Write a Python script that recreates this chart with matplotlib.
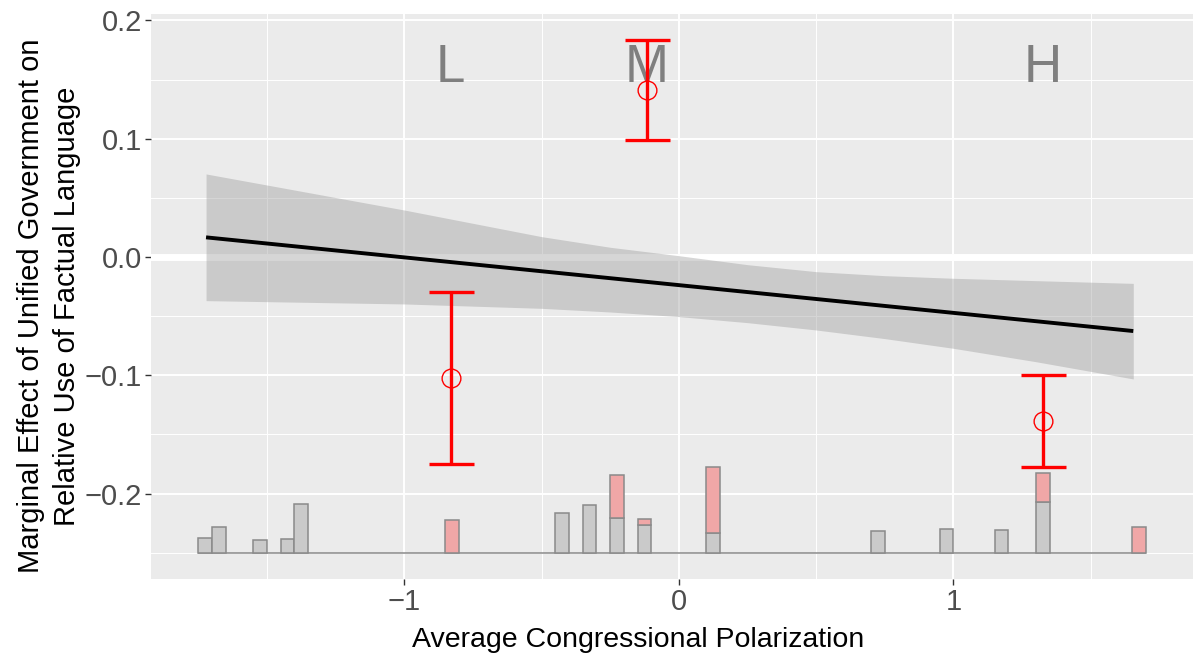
import numpy as np
import matplotlib
matplotlib.use("Agg")
import matplotlib.pyplot as plt
from matplotlib.ticker import MultipleLocator, FixedLocator

plt.rcParams['font.family'] = ['Liberation Sans', 'DejaVu Sans']

# ---- data ----
# fitted marginal-effect line (endpoints)
line_x = [-1.722, 1.655]
line_y = [0.0166, -0.0626]
# confidence band
band_x = [-1.722, -1.0, -0.5, -0.25, 0.0, 0.25, 0.5, 0.75, 1.0, 1.3, 1.655]
band_hi = [0.0702, 0.0397, 0.0172, 0.0082, 0.0011, -0.0065, -0.0124,
           -0.0158, -0.0180, -0.0200, -0.0223]
band_lo = [-0.0369, -0.0397, -0.0434, -0.0465, -0.0504, -0.0555, -0.0617,
           -0.0690, -0.0772, -0.0885, -0.1031]

# binned estimates L / M / H
grp_labels = ["L", "M", "H"]
grp_x = [-0.831, -0.117, 1.326]
grp_est = [-0.1023, 0.1412, -0.1386]
grp_lo = [-0.1750, 0.0989, -0.1775]
grp_hi = [-0.0296, 0.1834, -0.0997]
label_y = 0.1595

# histogram of the moderator (bin centres, heights in y-units above base)
hist_base = -0.25
hist_width = 0.05
hist_x = [-1.725, -1.675, -1.525, -1.425, -1.375, -0.825, -0.425, -0.325,
          -0.225, -0.125, 0.125, 0.725, 0.975, 1.175, 1.325, 1.675]
hist_gray = [0.0127, 0.0216, 0.0107, 0.0112, 0.0408, 0.0, 0.0335, 0.0402,
             0.0292, 0.0231, 0.0163, 0.0180, 0.0197, 0.0189, 0.0425, 0.0]
hist_red = [0.0, 0.0, 0.0, 0.0, 0.0, 0.0279, 0.0, 0.0,
            0.0364, 0.0050, 0.0561, 0.0, 0.0, 0.0, 0.0245, 0.0214]

x_ticks = [-1, 0, 1]
y_ticks = [-0.2, -0.1, 0.0, 0.1, 0.2]

# ---- figure ----
W, H = 1193, 658
fig = plt.figure(figsize=(W / 100, H / 100), dpi=100)
ax = fig.add_axes([151 / W, 1 - 579 / H, 1 - 151 / W, (579 - 14) / H])
ax.set_facecolor('#EBEBEB')
for s in ax.spines.values():
    s.set_visible(False)

ax.set_xlim(-1.9225, 1.8725)
ax.set_ylim(-0.2722, 0.2054)

ax.xaxis.set_major_locator(FixedLocator(x_ticks))
ax.yaxis.set_major_locator(FixedLocator(y_ticks))
ax.xaxis.set_minor_locator(MultipleLocator(0.5))
ax.yaxis.set_minor_locator(MultipleLocator(0.05))
ax.grid(which='major', color='white', linewidth=1.4, zorder=0)
ax.grid(which='minor', color='white', linewidth=0.7, zorder=0)
ax.set_axisbelow(True)
ax.tick_params(which='minor', length=0)
ax.tick_params(which='major', length=4.0, width=1.0, color='#333333',
               labelcolor='#4D4D4D', labelsize=21, pad=2.5)
ax.set_xticklabels(['\u22121', '0', '1'])
ax.set_yticklabels(['\u22120.2', '\u22120.1', '0.0', '0.1', '0.2'])

# white zero line
ax.axhline(0, color='white', linewidth=5, zorder=1)

# confidence band + fitted line
ax.fill_between(band_x, band_lo, band_hi, color='#999999', alpha=0.4,
                linewidth=0, zorder=2)
ax.plot(line_x, line_y, color='black', linewidth=2.8, zorder=3,
        solid_capstyle='butt')

# histogram
hx = np.array(hist_x)
hg = np.array(hist_gray)
hr = np.array(hist_red)
ax.hlines(hist_base, hx.min() - hist_width / 2, hx.max() + hist_width / 2,
          color='#8A8A8A', linewidth=1.1, zorder=3)
m = hg > 0
ax.bar(hx[m], hg[m], bottom=hist_base, width=hist_width, color='#CACACA',
       edgecolor='#8A8A8A', linewidth=1.1, zorder=4)
m = hr > 0
ax.bar(hx[m], hr[m], bottom=hist_base + hg[m], width=hist_width,
       color='#F0A7A7', edgecolor='#8A8A8A', linewidth=1.1, zorder=4)

# group labels
for lab, gx in zip(grp_labels, grp_x):
    ax.text(gx, label_y, lab, color='#7F7F7F', fontsize=38,
            ha='center', va='center', zorder=5)

# error bars
est = np.array(grp_est)
yerr = np.vstack([est - np.array(grp_lo), np.array(grp_hi) - est])
ax.errorbar(grp_x, est, yerr=yerr, fmt='none', ecolor='red',
            elinewidth=2.4, capsize=16.2, capthick=2.4, zorder=6)
ax.plot(grp_x, est, linestyle='none', marker='o', markersize=13.5,
        markerfacecolor='none', markeredgecolor='red', markeredgewidth=1.0,
        zorder=7)

# axis titles
fig.text(638 / W, 1 - 640 / H, 'Average Congressional Polarization',
         fontsize=20.5, ha='center', va='center', color='black')
fig.text(49 / W, 1 - 306 / H,
         'Marginal Effect of Unified Government on\nRelative Use of Factual Language',
         fontsize=21, ha='center', va='center', rotation=90,
         multialignment='center', linespacing=1.4, color='black')

fig.savefig('out.png', dpi=100)
